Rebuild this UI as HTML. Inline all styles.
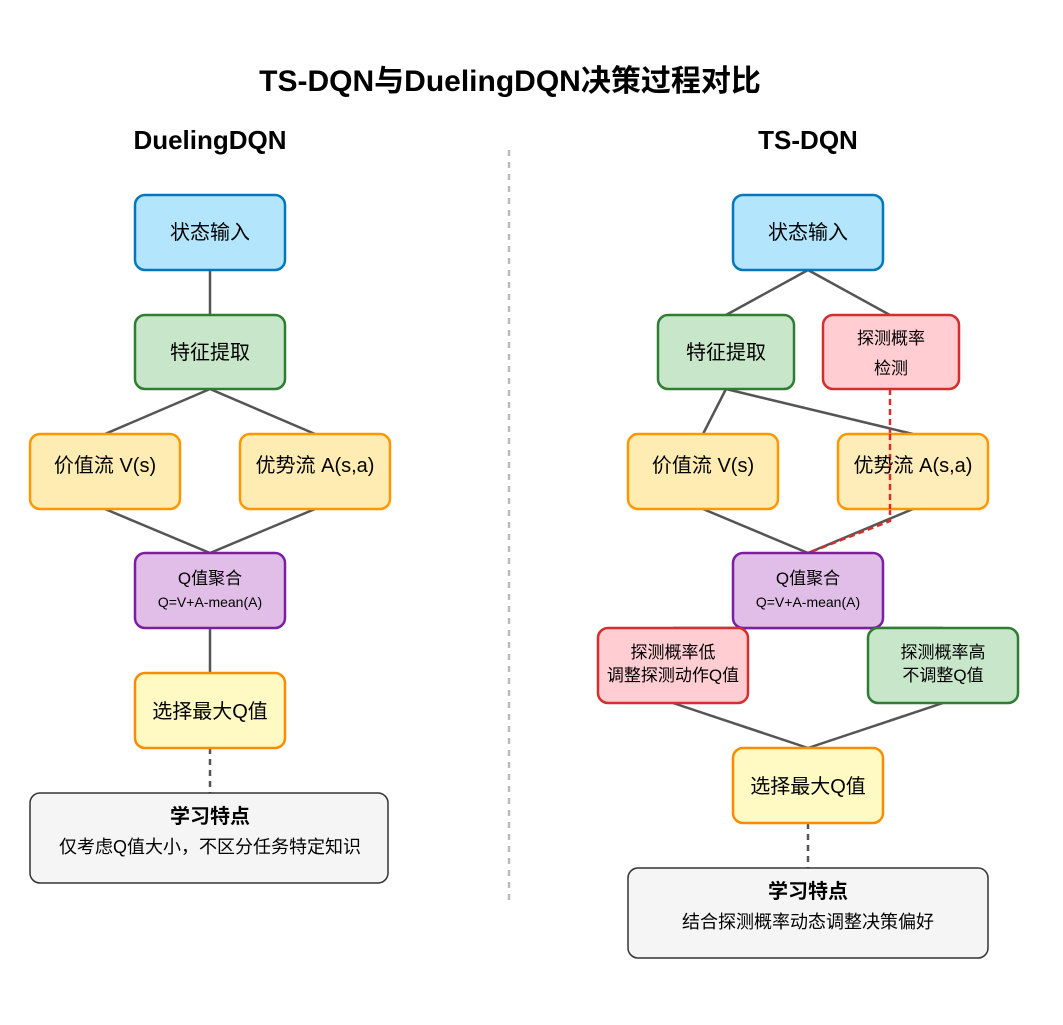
<!DOCTYPE html>
<html><head><meta charset="utf-8"><style>
html,body{margin:0;padding:0;background:#fff;}
svg{display:block;font-family:"Liberation Sans","Noto Sans CJK SC",sans-serif;}
</style></head><body>
<svg width="1063" height="1025" viewBox="0 0 1063 1025" xmlns="http://www.w3.org/2000/svg">
<rect width="1063" height="1025" fill="#fff"/>
<text x="510" y="91" font-size="30" font-weight="bold" text-anchor="middle" fill="#000">TS-DQN与DuelingDQN决策过程对比</text>
<text x="210" y="149" font-size="26" font-weight="bold" text-anchor="middle">DuelingDQN</text>
<text x="808" y="149" font-size="26" font-weight="bold" text-anchor="middle">TS-DQN</text>
<line x1="509" y1="150" x2="509" y2="905" stroke="#bbb" stroke-width="2.5" stroke-dasharray="6,6"/>

<g stroke="#555" stroke-width="2.5" fill="none">
<line x1="210" y1="270" x2="210" y2="315"/>
<line x1="210" y1="389" x2="105" y2="434"/><line x1="210" y1="389" x2="315" y2="434"/>
<line x1="105" y1="509" x2="210" y2="553"/><line x1="315" y1="509" x2="210" y2="553"/>
<line x1="210" y1="628" x2="210" y2="673"/>
<line x1="210" y1="748" x2="210" y2="793" stroke-dasharray="6,5"/>
<line x1="808" y1="270" x2="726" y2="315"/><line x1="808" y1="270" x2="890" y2="315"/>
<line x1="726" y1="389" x2="703" y2="434"/><line x1="726" y1="389" x2="913" y2="434"/>
<line x1="703" y1="509" x2="808" y2="553"/><line x1="913" y1="509" x2="808" y2="553"/>
<line x1="673" y1="628" x2="943" y2="628"/>
<line x1="673" y1="703" x2="808" y2="748"/><line x1="943" y1="703" x2="808" y2="748"/>
<line x1="808" y1="823" x2="808" y2="868" stroke-dasharray="6,5"/>
</g>
<polyline points="890,389 890,521 808,553" fill="none" stroke="#d32f2f" stroke-width="2.5" stroke-dasharray="6,4"/>

<g stroke-width="2.5">
<rect x="135" y="195" width="150" height="75" rx="10" fill="#b3e5fc" stroke="#0277bd"/>
<rect x="135" y="315" width="150" height="74" rx="10" fill="#c8e6c9" stroke="#2e7d32"/>
<rect x="30" y="434" width="150" height="75" rx="10" fill="#ffecb3" stroke="#ff9800"/>
<rect x="240" y="434" width="150" height="75" rx="10" fill="#ffecb3" stroke="#ff9800"/>
<rect x="135" y="553" width="150" height="75" rx="10" fill="#e1bee7" stroke="#7b1fa2"/>
<rect x="135" y="673" width="150" height="75" rx="10" fill="#fff9c4" stroke="#fb8c00"/>
<rect x="30" y="793" width="358" height="90" rx="10" fill="#f5f5f5" stroke="#333" stroke-width="1.5"/>

<rect x="733" y="195" width="150" height="75" rx="10" fill="#b3e5fc" stroke="#0277bd"/>
<rect x="658" y="315" width="136" height="74" rx="10" fill="#c8e6c9" stroke="#2e7d32"/>
<rect x="823" y="315" width="136" height="74" rx="10" fill="#ffcdd2" stroke="#d32f2f"/>
<rect x="628" y="434" width="150" height="75" rx="10" fill="#ffecb3" stroke="#ff9800"/>
<rect x="838" y="434" width="150" height="75" rx="10" fill="#ffecb3" stroke="#ff9800" fill-opacity="0.92"/>
<rect x="733" y="553" width="150" height="75" rx="10" fill="#e1bee7" stroke="#7b1fa2"/>
<rect x="598" y="628" width="150" height="75" rx="10" fill="#ffcdd2" stroke="#d32f2f"/>
<rect x="868" y="628" width="150" height="75" rx="10" fill="#c8e6c9" stroke="#2e7d32"/>
<rect x="733" y="748" width="150" height="75" rx="10" fill="#fff9c4" stroke="#fb8c00"/>
<rect x="628" y="868" width="360" height="90" rx="10" fill="#f5f5f5" stroke="#333" stroke-width="1.5"/>
</g>
<polyline points="890,434 890,509" fill="none" stroke="#d32f2f" stroke-width="2.5" stroke-dasharray="6,4"/>

<g font-size="20" text-anchor="middle" fill="#000">
<text x="210" y="239">状态输入</text>
<text x="210" y="359">特征提取</text>
<text x="105" y="472">价值流 V(s)</text>
<text x="315" y="472">优势流 A(s,a)</text>
<text x="210" y="718">选择最大Q值</text>
<text x="808" y="239">状态输入</text>
<text x="726" y="359">特征提取</text>
<text x="703" y="472">价值流 V(s)</text>
<text x="913" y="472">优势流 A(s,a)</text>
<text x="808" y="793">选择最大Q值</text>
</g>
<g font-size="17" text-anchor="middle">
<text x="210" y="584">Q值聚合</text>
<text x="808" y="584">Q值聚合</text>
<text x="891" y="344">探测概率</text>
<text x="891" y="374">检测</text>
<text x="673" y="658">探测概率低</text>
<text x="673" y="681">调整探测动作Q值</text>
<text x="943" y="658">探测概率高</text>
<text x="943" y="681">不调整Q值</text>
<text x="210" y="853" font-size="18">仅考虑Q值大小，不区分任务特定知识</text>
<text x="808" y="928" font-size="18">结合探测概率动态调整决策偏好</text>
</g>
<g font-size="14" text-anchor="middle">
<text x="210" y="607">Q=V+A-mean(A)</text>
<text x="808" y="607">Q=V+A-mean(A)</text>
</g>
<g font-size="20" font-weight="bold" text-anchor="middle">
<text x="210" y="823">学习特点</text>
<text x="808" y="898">学习特点</text>
</g>
</svg>
</body></html>
